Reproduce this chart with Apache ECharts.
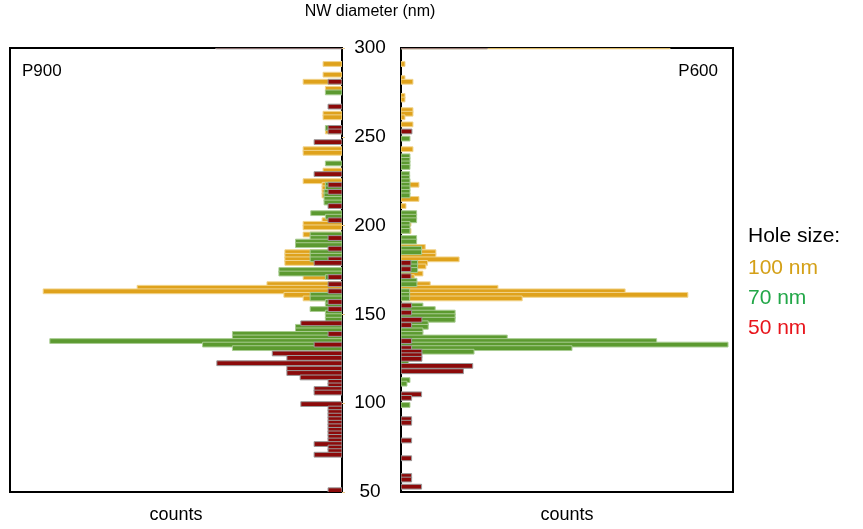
<!DOCTYPE html>
<html>
<head>
<meta charset="utf-8">
<title>NW diameter histograms</title>
<script src="https://cdn.jsdelivr.net/npm/echarts@6/dist/echarts.min.js"></script>
<style>
  html, body { margin: 0; padding: 0; background: #fff; }
  #chart { width: 863px; height: 529px; }
</style>
</head>
<body>
<div id="chart"></div>
<script>
// each bar: [diameter (nm, bar centre), counts (0-100 of panel width)]
const p900Gold = [
  [291, 5.7], [285, 5.7], [281, 11.7], [277, 5], [263, 5.7], [261, 5.7], [253, 5],
  [243, 11.7], [241, 11.7], [231, 5.7], [225, 11.7], [223, 6], [221, 6], [219, 6], [217, 6],
  [203, 6], [201, 11.7], [199, 11.7], [195, 11.7], [185, 17.2], [183, 17.2], [181, 17.2],
  [179, 17.2], [171, 11.7], [167, 22.6], [165, 61.7], [163, 90], [161, 17.5], [159, 11.7]
]
const p900Green = [
  [275, 5], [255, 5], [235, 5], [223, 5], [221, 5], [219, 5.4], [217, 5.4], [215, 5.4],
  [213, 5.4], [207, 9.4], [205, 5], [195, 9.6], [193, 9.6], [191, 14], [189, 14], [185, 9.6],
  [183, 9.6], [181, 9.6], [175, 19], [173, 19], [171, 5], [161, 9.6], [159, 9.6], [157, 5],
  [155, 5], [153, 9.6], [151, 5], [149, 5], [147, 5], [143, 14], [141, 14], [139, 33],
  [137, 33], [135, 88], [133, 42], [131, 33]
]
const p900Red = [
  [300.9, 38],
  [281, 4.2], [267, 4.2], [255, 4.2], [253, 4.2], [247, 8.4], [229, 8.4], [223, 4.2],
  [219, 4.2], [211, 4.2], [203, 4.2], [193, 4.2], [187, 4.2], [181, 4.2], [179, 8.4],
  [171, 4.2], [167, 4.2], [163, 4.2], [157, 4.2], [153, 4.2], [145, 12.4], [139, 4.2],
  [133, 8.4], [128, 21], [125.5, 16.6], [122.5, 37.7], [119.5, 16.6], [117, 16.6],
  [114.5, 12.6], [112, 4.2], [110, 4.2], [108, 8.4], [106, 8.4], [99.5, 12.4], [97, 4.2],
  [95, 4.2], [93, 4.2], [91, 4.2], [89, 4.2], [87, 4.2], [85, 4.2], [83, 4.2], [81, 4.2],
  [79, 4.2], [77, 8.4], [75, 4.2], [73, 4.2], [71, 8.4], [51, 4.2]
]

const p600Gold = [
  [300.9, 81],
  [291, 1.2], [283, 1.2], [281, 3.6], [273, 1.2], [271, 1.2], [265, 3.6], [263, 3.6],
  [261, 1.2], [257, 3.6], [243, 3.6], [223, 5.4], [215, 5.4], [211, 1.5], [201, 3], [197, 3],
  [188, 7.3], [185, 10.5], [183, 10.5], [181, 17.5], [179, 8], [177, 7.5], [173, 6.6],
  [171, 4], [167, 8.8], [165, 29.2], [163, 67.5], [161, 86.4], [159, 36.5]
]
const p600Green = [
  [249, 2.7], [239, 2.7], [237, 2.7], [235, 2.7], [233, 2.7], [229, 2.6], [227, 2.6],
  [225, 2.7], [223, 2.7], [221, 2.7], [219, 2.7], [217, 2.7], [207, 4.7], [205, 4.7],
  [203, 4.7], [201, 2.7], [199, 2.7], [197, 2.7], [193, 4.7], [191, 4.7], [187, 6.2],
  [185, 6.2], [179, 5], [177, 5], [175, 5], [169, 4.8], [167, 4.8], [163, 2.6], [161, 2.6],
  [159, 2.6], [155, 6.6], [153, 10.3], [151, 16.3], [149, 16.3], [147, 16.3], [145, 8.2],
  [143, 8.2], [141, 6.6], [139, 6.6], [137, 32], [135, 77], [133, 98.5], [131, 51.5],
  [129, 22], [127, 2.5], [123, 2.3], [113, 2.7], [111, 1.8], [99, 2.7]
]
const p600Red = [
  [300.9, 26],
  [253, 3.3], [179, 3], [175.5, 3], [171.5, 3], [155, 3.2], [151, 3.2], [147, 6.3],
  [144, 3.2], [135, 3.2], [131, 3.2], [129, 6.3], [127, 6.3], [125, 6.3], [121, 21.6],
  [118, 18.8], [105, 6.2], [103, 3.2], [91, 3.2], [89, 3.2], [79, 3.2], [69, 3.2],
  [59, 3.2], [57, 3.2], [53, 6.2]
]

const yTicks = [50, 100, 150, 200, 250, 300]
const holeSizes = ['100 nm', '70 nm', '50 nm']

const FONT = "'Liberation Sans', Arial, Helvetica, sans-serif"
const BAR_H = 2.7 // nm, bar thickness
const fills = ['#dfa21c', '#5c9a30', '#8c0a0a']
const strokes = ['#f1d48c', '#a9cc92', '#9a9a9a']
const legendColors = ['#d4a017', '#22a748', '#e8141b']

const chart = echarts.init(document.getElementById('chart'))

const renderBar = (idx) => (params, api) => {
  const d = api.value(0)
  const c = api.value(1)
  const a = api.coord([0, d + BAR_H / 2])
  const b = api.coord([c, d - BAR_H / 2])
  return {
    type: 'rect',
    shape: {
      x: Math.min(a[0], b[0]),
      y: Math.min(a[1], b[1]),
      width: Math.abs(b[0] - a[0]),
      height: Math.abs(b[1] - a[1])
    },
    style: { fill: fills[idx], stroke: strokes[idx], lineWidth: 1 }
  }
}

const sets = [[p900Gold, p900Green, p900Red], [p600Gold, p600Green, p600Red]]
const series = []
sets.forEach((panel, g) => {
  panel.forEach((data, i) => {
    series.push({
      type: 'custom',
      name: holeSizes[i],
      xAxisIndex: g,
      yAxisIndex: g,
      coordinateSystem: 'cartesian2d',
      encode: { x: 1, y: 0 },
      data,
      renderItem: renderBar(i),
      clip: true,
      silent: true,
      itemStyle: { color: fills[i] }
    })
  })
})

const xAxisBase = (g) => ({
  type: 'value',
  gridIndex: g,
  min: 0,
  max: 100,
  inverse: g === 0,
  name: 'counts',
  nameLocation: 'middle',
  nameGap: 14,
  nameTextStyle: { fontSize: 18, color: '#000', fontFamily: FONT },
  axisLine: { show: false },
  axisTick: { show: false },
  axisLabel: { show: false },
  splitLine: { show: false }
})

const yAxisBase = (g) => ({
  type: 'value',
  gridIndex: g,
  min: 50,
  max: 300,
  interval: 50,
  position: g === 0 ? 'right' : 'left',
  axisLine: { show: false },
  axisTick: g === 0
    ? { show: true, inside: false, length: 3, lineStyle: { color: '#e8c888' } }
    : { show: false },
  axisLabel: g === 1
    ? {
        show: true,
        margin: 31,
        align: 'center',
        fontSize: 19,
        color: '#000',
        fontFamily: FONT,
        customValues: yTicks
      }
    : { show: false },
  splitLine: { show: false }
})

chart.setOption({
  backgroundColor: '#fff',
  animation: false,
  textStyle: { fontFamily: FONT },
  grid: [
    { left: 10, top: 48, width: 332, height: 446, show: true, borderColor: '#000', borderWidth: 2, backgroundColor: 'transparent' },
    { left: 401, top: 48, width: 332, height: 446, show: true, borderColor: '#000', borderWidth: 2, backgroundColor: 'transparent' }
  ],
  xAxis: [xAxisBase(0), xAxisBase(1)],
  yAxis: [yAxisBase(0), yAxisBase(1)],
  legend: {
    orient: 'vertical',
    left: 738,
    top: 253,
    itemGap: 9,
    itemWidth: 0,
    itemHeight: 0,
    icon: 'none',
    selectedMode: false,
    data: holeSizes.map((name, i) => ({
      name,
      icon: 'none',
      textStyle: { color: legendColors[i], fontSize: 21, fontFamily: FONT }
    }))
  },
  graphic: [
    { type: 'text', x: 370, y: 4, style: { text: 'NW diameter (nm)', fontSize: 16, fill: '#000', fontFamily: FONT, align: 'center' } },
    { type: 'text', x: 22, y: 63, style: { text: 'P900', fontSize: 17, fill: '#000', fontFamily: FONT } },
    { type: 'text', x: 718, y: 63, style: { text: 'P600', fontSize: 17, fill: '#000', fontFamily: FONT, align: 'right' } },
    { type: 'text', x: 748, y: 226, style: { text: 'Hole size:', fontSize: 21, fill: '#000', fontFamily: FONT } }
  ],
  series
})
</script>
</body>
</html>
